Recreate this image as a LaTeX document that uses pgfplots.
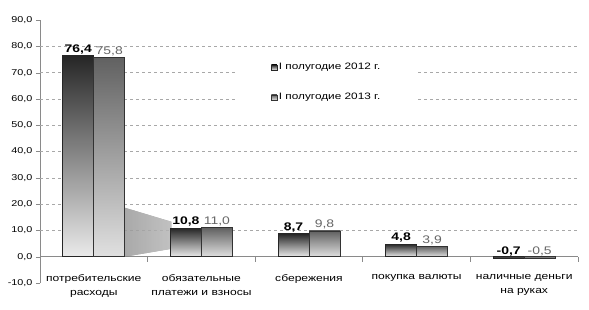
\documentclass[border=0pt]{standalone}
\usepackage{pgfplots}
\pgfplotsset{compat=1.18}
\usepackage{fontspec}
\setmainfont{Liberation Sans}[FakeStretch=1.27]
\definecolor{axgray}{HTML}{8A8A8A}
\definecolor{gridgray}{HTML}{A8A8A8}
\pgfplotsset{
  b1/.style={ybar, bar width=31pt, bar shift=-15.5pt, draw=black!85, line width=0.8pt,
    top color=black!85, bottom color=black!8,
    nodes near coords,
    every node near coord/.append style={anchor=south, xshift=-15.5pt, font=\fontsize{11}{12}\selectfont\bfseries, text=black, inner sep=1.5pt}},
  b2/.style={ybar, bar width=31pt, bar shift=15.5pt, draw=black!80, line width=0.8pt,
    top color=black!62, bottom color=black!12,
    nodes near coords,
    every node near coord/.append style={anchor=south, xshift=15.5pt, font=\fontsize{11}{12}\selectfont, text=black!60, inner sep=1.5pt}},
}
\begin{document}
\begin{tikzpicture}
\begin{axis}[
  name=ax,
  scale only axis,
  width=538pt, height=263pt,
  xmin=-0.5, xmax=4.5,
  ymin=-10, ymax=90,
  axis x line=middle,
  axis y line=left,
  axis line style={-, draw=axgray, line width=0.8pt},
  hide obscured x ticks=false,
  hide obscured y ticks=false,
  /pgf/number format/.cd, use comma, fixed, fixed zerofill, precision=1, assume math mode=true,
  /pgfplots/.cd,
  ytick={-10,0,...,90},
  yticklabel style={font=\fontsize{8.5}{10}\selectfont, black},
  ytick style={draw=axgray},
  tick align=outside,
  major tick length=4pt,
  extra y ticks={10,20,...,80},
  extra y tick labels={},
  extra y tick style={grid=major, major grid style={dashed, gridgray, line width=0.6pt}, major tick length=0pt},
  xtick={0,1,2,3,4},
  xticklabels={потребительские\\расходы, обязательные\\платежи и взносы, сбережения, покупка валюты, наличные деньги\\на руках},
  xticklabel style={font=\fontsize{9.5}{14.5}\selectfont, align=center, anchor=north, yshift=-10pt, text=black},
  x tick style={draw=none},
  extra x ticks={-0.5,0.5,1.5,2.5,3.5,4.5},
  extra x tick labels={},
  extra x tick style={x tick style={draw=axgray, line width=0.8pt}, major tick length=5pt, tick align=outside},
  legend style={at={(axis cs:1.33,77)}, anchor=north west, draw=none, fill=white,
    inner xsep=34pt, inner ysep=7pt, row sep=18pt,
    font=\fontsize{9.3}{11}\selectfont, text=black},
  legend cell align=left,
  legend image code/.code={\draw[#1, line width=0.3pt] (0pt,-2.6pt) rectangle (5.5pt,2.6pt);},
  clip=false,
]
\fill[left color=black!16, right color=white, opacity=0.6]
  (axis cs:0.29,0) -- (axis cs:0.29,18.6) -- (axis cs:0.72,13.3) -- (axis cs:0.72,3) -- cycle;

\addplot[b1] coordinates {(0,76.4)};
\addlegendentry{I полугодие 2012 г.}
\addplot[b2] coordinates {(0,75.8)};
\addlegendentry{I полугодие 2013 г.}
\addplot[b1, forget plot] coordinates {(1,10.8)};
\addplot[b2, forget plot] coordinates {(1,11.0)};
\addplot[b1, forget plot] coordinates {(2,8.7)};
\addplot[b2, forget plot] coordinates {(2,9.8)};
\addplot[b1, forget plot] coordinates {(3,4.8)};
\addplot[b2, forget plot] coordinates {(3,3.9)};
\addplot[b1, forget plot] coordinates {(4,-0.7)};
\addplot[b2, forget plot] coordinates {(4,-0.5)};
\end{axis}
\pgfresetboundingbox
\path ([xshift=-40pt,yshift=-26pt]ax.south west) rectangle ([xshift=11pt,yshift=20pt]ax.north east);
\end{tikzpicture}
\end{document}
